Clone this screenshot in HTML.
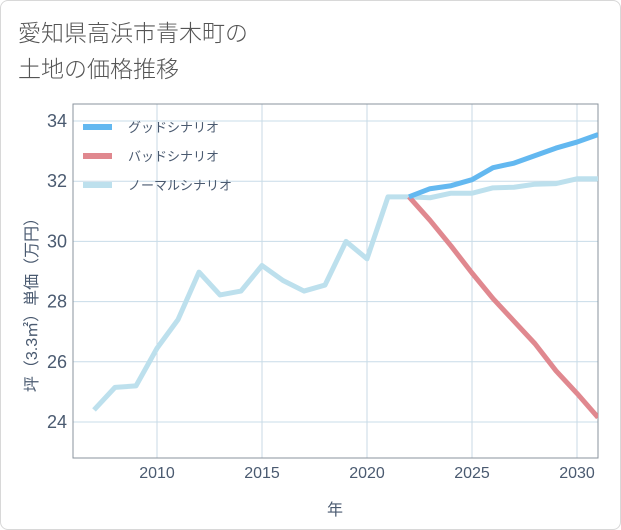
<!DOCTYPE html>
<html><head><meta charset="utf-8"><style>
body{margin:0;background:#fff;font-family:"Liberation Sans","Noto Sans CJK JP",sans-serif;}
#wrap{position:relative;width:619px;height:528px;border:1px solid #d8d8d8;border-radius:8px;overflow:hidden;background:#fff}
#title{position:absolute;left:17px;top:14px;font-size:23px;line-height:36px;color:#555;font-weight:300}
svg{position:absolute;left:0;top:0}
</style></head><body>
<div id="wrap">
<div id="title">愛知県高浜市青木町の<br>土地の価格推移</div>
<svg id="chart" width="621" height="530"></svg>
</div>
<script>
const years=[2007,2008,2009,2010,2011,2012,2013,2014,2015,2016,2017,2018,2019,2020,2021,2022,2023,2024,2025,2026,2027,2028,2029,2030,2031];
const normal=[24.4,25.15,25.2,26.45,27.4,28.98,28.22,28.35,29.2,28.7,28.35,28.55,30.0,29.42,31.48,31.48,31.45,31.6,31.6,31.78,31.8,31.9,31.92,32.08,32.08];
const goodYears=[2022,2023,2024,2025,2026,2027,2028,2029,2030,2031];
const good=[31.48,31.75,31.85,32.05,32.45,32.6,32.85,33.1,33.3,33.55];
const bad=[31.48,30.7,29.85,28.95,28.1,27.35,26.6,25.7,24.95,24.15];
const xTicks=[2010,2015,2020,2025,2030];
const yTicks=[24,26,28,30,32,34];
const names=["グッドシナリオ","バッドシナリオ","ノーマルシナリオ"];
const colors=["#63b8f0","#e0888f","#bde0ed"];
const L=72,R=597,T=103,B=457;
const x=v=>156+(v-2010)*21;
const y=v=>120+(34-v)*30.1;
const svg=document.getElementById('chart');
const NS='http://www.w3.org/2000/svg';
function mk(t,a,p){const e=document.createElementNS(NS,t);for(const k in a)e.setAttribute(k,a[k]);(p||svg).appendChild(e);return e;}
mk('rect',{x:L,y:T,width:R-L,height:B-T,fill:'#fff',stroke:'none'});
xTicks.forEach(t=>{
 const g=mk('line',{x1:x(t),x2:x(t),y1:T,y2:B,stroke:'#c8d8e4','stroke-width':1});
 
 const tx=mk('text',{x:x(t),y:477,'text-anchor':'middle','font-size':16,fill:'#4a5a70'});
 tx.textContent=t;
 
});
yTicks.forEach(t=>{
 const g=mk('line',{x1:L,x2:R,y1:y(t),y2:y(t),stroke:'#c8dce8','stroke-width':1});
 
 const tx=mk('text',{x:66,y:y(t)+6,'text-anchor':'end','font-size':18,fill:'#4a5a70'});
 tx.textContent=t;
 
});
const fr=mk('rect',{x:L,y:T,width:R-L,height:B-T,fill:'none',stroke:'#8a939c','stroke-width':1});

const cp=mk('clipPath',{id:'cp'});mk('rect',{x:L,y:T,width:R-L,height:B-T},cp);
function line(xs,vs,c,name){
 const p=mk('polyline',{points:xs.map((yr,i)=>x(yr)+','+y(vs[i])).join(' '),fill:'none',stroke:c,'stroke-width':5,'stroke-linejoin':'round','clip-path':'url(#cp)'});
 
}
line(years,normal,colors[2],'normal-scenario-line');
line(goodYears,bad,colors[1],'bad-scenario-line');
line(goodYears,good,colors[0],'good-scenario-line');
names.forEach((n,i)=>{
 const ly=126+i*29;
 const s=mk('line',{x1:82,x2:111,y1:ly,y2:ly,stroke:colors[i],'stroke-width':6});
 
 const t=mk('text',{x:127,y:ly+5,'font-size':13,fill:'#4a5a70'});t.textContent=n;
 
});
const xt=mk('text',{x:334,y:514,'text-anchor':'middle','font-size':16,fill:'#4a5a70'});xt.textContent='年';

const yt=mk('text',{x:0,y:0,'text-anchor':'middle','font-size':16,fill:'#4a5a70',transform:'translate(36,300) rotate(-90)'});yt.textContent='坪（3.3㎡）単価（万円）';

</script>
</body></html>
